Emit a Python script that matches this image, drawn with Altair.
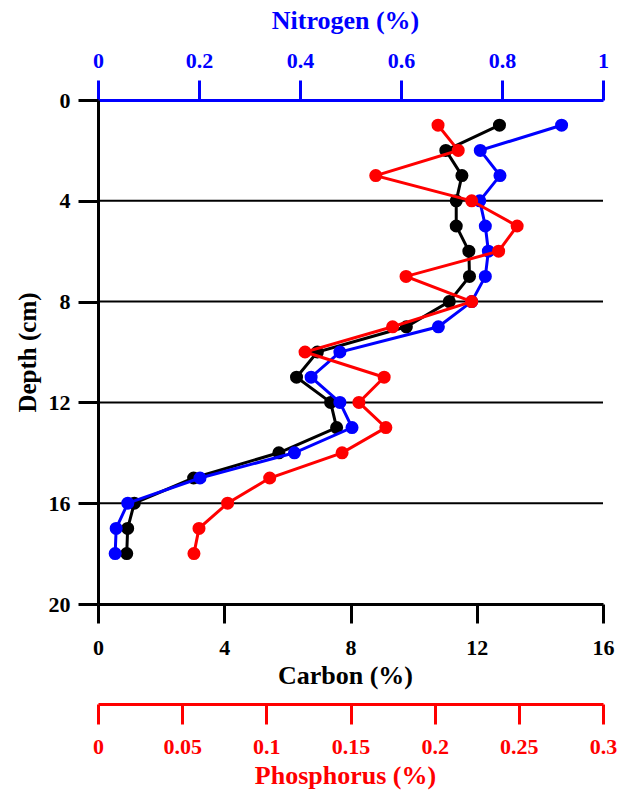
import altair as alt
import pandas as pd

# Sediment core profile: depth (cm) vs carbon, nitrogen and phosphorus content (%)
depth = [1, 2, 3, 4, 5, 6, 7, 8, 9, 10, 11, 12, 13, 14, 15, 16, 17, 18]
carbon = [12.72, 11.02, 11.53, 11.35, 11.35, 11.75, 11.77, 11.13, 9.77, 6.95,
          6.29, 7.37, 7.56, 5.73, 3.03, 1.15, 0.94, 0.91]
nitrogen = [0.918, 0.757, 0.796, 0.756, 0.767, 0.773, 0.767, 0.740, 0.674, 0.479,
            0.422, 0.479, 0.503, 0.389, 0.202, 0.059, 0.036, 0.034]
phosphorus = [0.202, 0.214, 0.165, 0.222, 0.249, 0.238, 0.183, 0.222, 0.175, 0.123,
              0.170, 0.155, 0.171, 0.145, 0.102, 0.077, 0.060, 0.057]

depth_ticks = [0, 4, 8, 12, 16, 20]
grid_depths = [4, 8, 12, 16]
carbon_ticks = [0, 4, 8, 12, 16]
nitrogen_ticks = [0, 0.2, 0.4, 0.6, 0.8, 1]
phosphorus_ticks = [0, 0.05, 0.1, 0.15, 0.2, 0.25, 0.3]

FONT = "Liberation Serif"
BLUE = "#0000ff"
RED = "#ff0000"

df = pd.DataFrame({"depth": depth, "carbon": carbon,
                   "nitrogen": nitrogen, "phosphorus": phosphorus})
grid_df = pd.DataFrame({"depth": grid_depths})

y_axis = alt.Axis(
    values=depth_ticks, tickSize=20, tickWidth=3, tickColor="black",
    domainColor="black", domainWidth=3, grid=False,
    labelFont=FONT, labelFontSize=22, labelFontWeight="bold", labelColor="black",
    labelPadding=8, labelOverlap=False,
    title="Depth (cm)", titleFont=FONT, titleFontSize=25, titleFontWeight="bold",
    titleColor="black", titleAngle=270, titleX=-63, titleY=252,
    titleAlign="center", titleBaseline="alphabetic",
)
y_enc = alt.Y("depth:Q", scale=alt.Scale(domain=[0, 20], reverse=True, nice=False),
              axis=y_axis)


def x_axis(title, ticks, color, orient, tick_size, label_pad, title_y, offset=0):
    return alt.Axis(
        orient=orient, offset=offset, values=ticks, format="~g",
        tickSize=tick_size, tickWidth=3, tickColor=color,
        domainColor=color, domainWidth=3, grid=False,
        labelFont=FONT, labelFontSize=22, labelFontWeight="bold", labelColor=color,
        labelPadding=label_pad, labelOverlap=False, labelFlush=False,
        title=title, titleFont=FONT, titleFontSize=26, titleFontWeight="bold",
        titleColor=color, titleX=247, titleY=title_y,
        titleAlign="center", titleBaseline="alphabetic",
    )


def profile(field, color, domain, axis):
    return alt.Chart(df).mark_line(
        color=color, strokeWidth=3,
        point=alt.OverlayMarkDef(filled=True, size=170, color=color, opacity=1),
    ).encode(
        x=alt.X(f"{field}:Q", scale=alt.Scale(domain=domain, nice=False), axis=axis),
        y=y_enc,
        order=alt.Order("depth:Q"),
    )


grid = alt.Chart(grid_df).mark_rule(color="black", strokeWidth=2).encode(y=y_enc)

carbon_layer = profile("carbon", "black", [0, 16],
                       x_axis("Carbon (%)", carbon_ticks, "black", "bottom", 19, 14, 79))
nitrogen_layer = profile("nitrogen", BLUE, [0, 1],
                         x_axis("Nitrogen (%)", nitrogen_ticks, BLUE, "top", 20, 8, -72))
phosphorus_layer = profile("phosphorus", RED, [0, 0.3],
                           x_axis("Phosphorus (%)", phosphorus_ticks, RED, "bottom",
                                  20, 12, 79, offset=100))

chart = alt.layer(
    grid, carbon_layer, nitrogen_layer, phosphorus_layer
).resolve_scale(
    x="independent"
).resolve_axis(
    x="independent"
).properties(
    width=505, height=504,
    padding={"left": 98, "top": 100, "right": 15, "bottom": 188},
    autosize=alt.AutoSizeParams(type="none"),
).configure(
    font=FONT,
).configure_view(
    strokeWidth=0,
)

chart.save("out.html", embed_options={"renderer": "svg", "actions": False})
